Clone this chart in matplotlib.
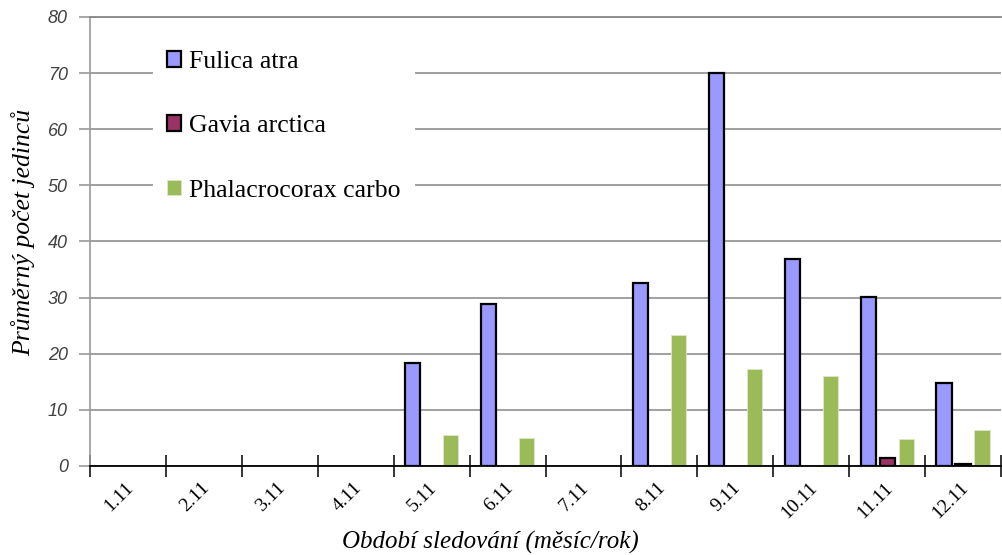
import numpy as np
import matplotlib.pyplot as plt
import matplotlib.transforms as mtransforms
from matplotlib.patches import Patch

cats = ['1.11', '2.11', '3.11', '4.11', '5.11', '6.11', '7.11', '8.11', '9.11', '10.11', '11.11', '12.11']
fulica = [0, 0, 0, 0, 18.4, 28.9, 0, 32.6, 70.1, 36.9, 30.1, 14.8]
gavia = [0, 0, 0, 0, 0, 0, 0, 0, 0, 0, 1.4, 0.3]
phalacro = [0, 0, 0, 0, 5.6, 5.0, 0, 23.3, 17.3, 16.1, 4.8, 6.5]
names = ['Fulica atra', 'Gavia arctica', 'Phalacrocorax carbo']

x = np.arange(len(cats))
w = 0.2

def edges(vals, lw):
    # no outline for empty bars
    return [lw if v > 0 else 0 for v in vals]

fig = plt.figure(figsize=(10.02, 5.55), dpi=100)
ax = fig.add_axes([90/1002., 1-466/555., 911/1002., 449/555.])

ax.bar(x-0.25, fulica, w, color='#9999FF', edgecolor='black', linewidth=edges(fulica, 1.6), zorder=3)
ax.bar(x, gavia, w, color='#993366', edgecolor='black', linewidth=edges(gavia, 1.6), zorder=3)
ax.bar(x+0.25, phalacro, w, color='#9BBB59', edgecolor='#DDE8C8', linewidth=edges(phalacro, 0.6), zorder=3)

ax.set_xlim(-0.5, 11.5)
ax.set_ylim(0, 80)
ax.set_yticks(np.arange(0, 81, 10))
ax.yaxis.grid(True, color='#999999', lw=1.3, zorder=0)
ax.set_axisbelow(True)

ax.set_xticks(x)
ax.set_xticklabels(cats, rotation=45, ha='right', va='center', rotation_mode='anchor',
                   family='Liberation Serif', fontsize=14)
ax.tick_params(axis='x', which='major', length=0, pad=14)
shift = mtransforms.ScaledTranslation(3/100., 0, fig.dpi_scale_trans)
for t in ax.get_xticklabels():
    t.set_transform(t.get_transform() + shift)
ax.set_xticks(np.arange(-0.5, 12, 1), minor=True)
ax.tick_params(axis='x', which='minor', direction='inout', length=16, width=1.1, color='black')

for t in ax.get_yticklabels():
    t.set_family('Liberation Sans')
    t.set_style('italic')
    t.set_fontsize(13)
    t.set_color('#404040')
ax.tick_params(axis='y', direction='out', length=8, color='#999999', width=1.2, pad=8)

ax.spines['right'].set_visible(False)
ax.spines['top'].set_color('#888888')
ax.spines['top'].set_linewidth(1.3)
ax.spines['left'].set_color('#999999')
ax.spines['left'].set_linewidth(1.2)
ax.spines['bottom'].set_color('black')
ax.spines['bottom'].set_linewidth(1.3)
ax.spines['bottom'].set_zorder(4)

ax.set_xlabel('Období sledování (měsíc/rok)', family='Liberation Serif', style='italic', fontsize=18)
ax.xaxis.set_label_coords(0.44, -0.145)
ax.set_ylabel('Průměrný počet jedinců', family='Liberation Serif', style='italic', fontsize=18.5)
ax.yaxis.set_label_coords(-0.06, 0.52)

handles = [Patch(facecolor='#9999FF', edgecolor='black', linewidth=1.6),
           Patch(facecolor='#993366', edgecolor='black', linewidth=1.6),
           Patch(facecolor='#9BBB59', edgecolor='#DDE8C8', linewidth=0.6)]
leg = ax.legend(handles, names, loc='upper left', bbox_to_anchor=(0.0693, 0.956), frameon=True,
                prop={'family': 'Liberation Serif', 'size': 18.5},
                handlelength=0.55, handleheight=0.55, handletextpad=0.3,
                labelspacing=1.65, borderpad=0.55, borderaxespad=0)
leg.get_frame().set_facecolor('white')
leg.get_frame().set_edgecolor('none')
leg.get_frame().set_alpha(1)
leg.get_frame().set_boxstyle('square', pad=0)

fig.savefig('out.png', dpi=100)
